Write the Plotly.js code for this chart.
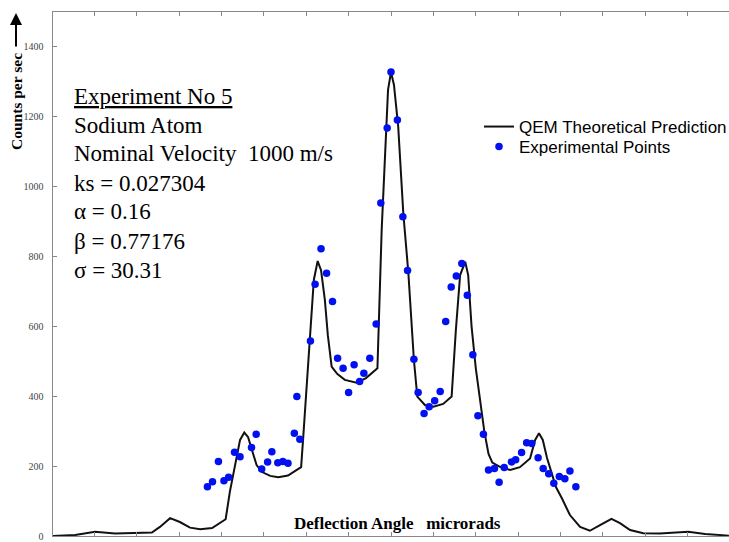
<!DOCTYPE html>
<html>
<head>
<meta charset="utf-8">
<script src="https://cdn.plot.ly/plotly-3.0.1.min.js"></script>
<style>html,body{margin:0;padding:0;background:#fff;}#chart{width:729px;height:542px;}</style>
</head>
<body>
<div id="chart"></div>
<script>
// Theoretical curve (deflection angle, counts per sec)
const curveX = [-797,-745,-698,-651,-564,-545,-521,-498,-474,-450,-422,-390,-380,-366,-356,-346,-337,-328,-317,-304,-285,-266,-243,-224,-212,-207,-191,-182,-173,-165,-156,-149,-140,-127,-109,-81,-59,-32,-22,-14,-7,0,7,17,29,41,54,62,80,100,123,143,153,163,175,182,190,200,210,220,230,239,257,281,304,328,340,349,358,368,379,389,403,422,446,469,493,520,540,564,595,634,701,741,797];
const curveY = [0,3,12,7,10,26,51,40,24,19,23,48,127,218,275,296,283,246,203,183,172,168,173,188,197,283,561,733,787,761,676,575,485,464,447,439,452,480,876,1105,1277,1328,1291,1172,924,752,504,399,375,370,378,399,590,747,785,747,600,480,390,300,235,210,198,189,197,222,275,294,275,223,180,140,108,60,26,15,31,49,37,17,8,7,12,6,1];

// Experimental points
const expX = [-433,-421,-407,-394,-383,-369,-356,-329,-318,-305,-291,-281,-267,-255,-243,-228,-222,-215,-190,-179,-165,-152,-138,-126,-113,-100,-87,-74,-64,-50,-35,-24,-9,0,15,28,39,54,64,78,90,103,116,129,142,154,167,180,193,205,218,230,244,255,267,284,294,308,320,332,347,359,372,384,397,410,422,436];
const expY = [141,155,213,158,168,240,227,253,291,192,212,241,210,213,208,294,399,277,558,721,822,752,671,509,480,411,490,442,466,509,607,953,1168,1328,1191,914,760,506,411,351,370,387,414,614,713,744,780,689,519,344,291,189,193,154,196,212,218,239,267,265,224,193,178,151,170,164,186,141];

const yTickVals = [0,200,400,600,800,1000,1200,1400];
const infoLines = [
  '<span style="text-decoration:underline">Experiment No 5</span>',
  'Sodium Atom',
  'Nominal Velocity\u00A0\u00A01000 m/s',
  'ks = 0.027304',
  '\u03B1 = 0.16',
  '\u03B2 = 0.77176',
  '\u03C3 = 30.31'
];

const L = 53, T = 12, W = 676, H = 524;
const px = x => (x - L) / W;
const py = y => (T + H - y) / H;

const traces = [
  {x: curveX, y: curveY, type: 'scatter', mode: 'lines', name: 'QEM Theoretical Prediction',
   line: {color: '#111', width: 2}, legend: 'legend'},
  {x: expX, y: expY, type: 'scatter', mode: 'markers', name: 'Experimental Points',
   marker: {color: '#0010f0', size: 7.5}, legend: 'legend2'}
];

const annotations = infoLines.map((t, i) => ({
  text: t, xref: 'paper', yref: 'paper', x: px(72), y: py(96 + i * 29),
  xanchor: 'left', yanchor: 'middle', showarrow: false,
  font: {family: 'Liberation Serif', size: 23, color: '#000'}
}));
annotations.push({
  text: '<b>Deflection Angle\u00A0\u00A0\u00A0microrads</b>', xref: 'paper', yref: 'paper',
  x: px(397), y: py(523), xanchor: 'center', yanchor: 'middle', showarrow: false,
  font: {family: 'Liberation Serif', size: 17, color: '#000'}
});
annotations.push({
  text: '<b>Counts per sec</b>', xref: 'paper', yref: 'paper', textangle: -90,
  x: px(16), y: py(102), xanchor: 'center', yanchor: 'middle', showarrow: false,
  font: {family: 'Liberation Serif', size: 15.5, color: '#000'}
});
annotations.push({
  text: '', xref: 'paper', yref: 'paper', x: px(16), y: py(13),
  ax: 0, ay: 35, showarrow: true, arrowhead: 2, arrowsize: 1.2, arrowwidth: 2, arrowcolor: '#000'
});

const legendBase = {xanchor: 'left', yanchor: 'top', itemwidth: 30,
  bgcolor: 'rgba(0,0,0,0)', font: {family: 'Liberation Sans', size: 17, color: '#000'}};

const layout = {
  width: 729, height: 542,
  margin: {l: L, r: 0, t: T, b: 6, pad: 0, autoexpand: false},
  paper_bgcolor: '#fff', plot_bgcolor: '#fff',
  showlegend: true,
  legend: Object.assign({}, legendBase, {x: px(479), y: py(109)}),
  legend2: Object.assign({}, legendBase, {x: px(479), y: py(129)}),
  xaxis: {range: [-797.2, 797.2], showgrid: false, zeroline: false, showticklabels: false,
    ticks: 'inside', tick0: 0, dtick: 100, ticklen: 4, tickcolor: '#888',
    showline: true, linecolor: '#888', linewidth: 1, mirror: 'ticks'},
  yaxis: {range: [0, 1500], showgrid: false, zeroline: false, tickvals: yTickVals,
    ticks: 'inside', ticklen: 4, tickcolor: '#888', ticklabelstandoff: 6,
    showline: true, linecolor: '#888', linewidth: 1.5,
    tickfont: {family: 'Liberation Sans Narrow', size: 10, color: '#444'}},
  annotations: annotations
};

Plotly.newPlot('chart', traces, layout, {displayModeBar: false, staticPlot: true});
</script>
</body>
</html>
